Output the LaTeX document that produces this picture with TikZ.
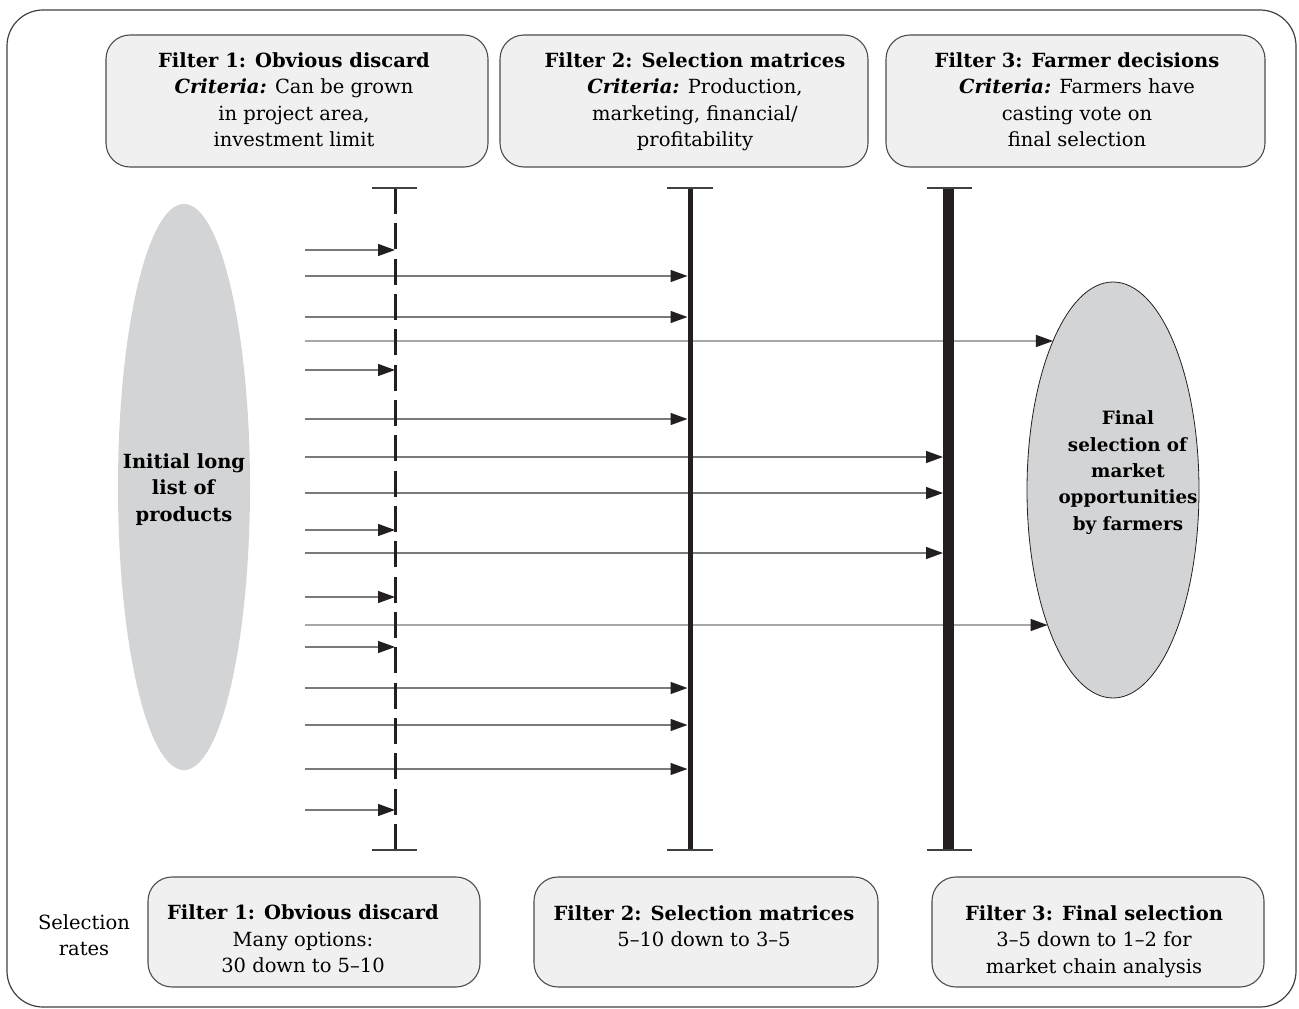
\documentclass[tikz,border=0pt]{standalone}
\usepackage{fontspec}
\setmainfont{DejaVu Serif}
\usetikzlibrary{arrows.meta,shapes.geometric,intersections}
\definecolor{boxfill}{HTML}{F0F0F0}
\definecolor{ellfill}{HTML}{D3D4D6}
\definecolor{ink}{HTML}{231F20}
\definecolor{arrgray}{HTML}{7A7A7A}
\begin{document}
\begin{tikzpicture}[x=1pt,y=-1pt,
  txt/.style={align=center, font=\fontsize{19.5}{26.5}\selectfont, inner sep=0pt},
  rbox/.style={draw=black!70, line width=1.1pt, fill=boxfill, rounded corners=24pt, inner sep=0pt},
  arr/.style={draw=arrgray, line width=1.4pt, -{Triangle[length=17pt,width=12pt,color=ink]}},
  tbar/.style={draw=black!75, line width=2pt},
]
\useasboundingbox (0,0) rectangle (1299,1009);
% outer frame
\draw[draw=black!75, line width=1.2pt, rounded corners=36pt] (7,10) rectangle (1296,1007);

% top boxes
\node[rbox, minimum width=382pt, minimum height=132pt] (t1) at (297,101) {};
\node[rbox, minimum width=368pt, minimum height=132pt] (t2) at (684,101) {};
\node[rbox, minimum width=379pt, minimum height=132pt] (t3) at (1075.5,101) {};
\node[txt] (t1t) at (294,99.5) {\textbf{Filter 1: Obvious discard}\\\textbf{\textit{Criteria:}} Can be grown\\in project area,\\investment limit};
\node[txt] (t2t) at (695,102) {\textbf{Filter 2: Selection matrices}\\\textbf{\textit{Criteria:}} Production,\\marketing, financial/\\profitability};
\node[txt] (t3t) at (1077,99.5) {\textbf{Filter 3: Farmer decisions}\\\textbf{\textit{Criteria:}} Farmers have\\casting vote on\\final selection};

% bottom boxes
\node[rbox, minimum width=332pt, minimum height=110pt] (b1) at (314,932) {};
\node[rbox, minimum width=344pt, minimum height=110pt] (b2) at (706,932) {};
\node[rbox, minimum width=332pt, minimum height=110pt] (b3) at (1098,932) {};
\node[txt] (b1t) at (303,939) {\textbf{Filter 1: Obvious discard}\\Many options:\\30 down to 5–10};
\node[txt] (b2t) at (704,926) {\textbf{Filter 2: Selection matrices}\\5–10 down to 3–5};
\node[txt] (b3t) at (1094,941.5) {\textbf{Filter 3: Final selection}\\3–5 down to 1–2 for\\market chain analysis};
\node[txt] (sr) at (84,935) {Selection\\rates};

% ellipses
\node[ellipse, fill=ellfill, minimum width=132pt, minimum height=566pt, inner sep=0pt] (init) at (184,487) {};
\node[txt] (initt) at (184,489.5) {\textbf{Initial long}\\\textbf{list of}\\\textbf{products}};
\node[ellipse, fill=ellfill, draw=ink, line width=0.8pt, minimum width=172pt, minimum height=416pt, inner sep=0pt, name path=finP] (fin) at (1113,490) {};
\node[txt, font=\fontsize{18.3}{26.3}\selectfont] (fint) at (1128,472.5) {\textbf{Final}\\\textbf{selection of}\\\textbf{market}\\\textbf{opportunities}\\\textbf{by farmers}};

% filter line positions
\coordinate (L1t) at (395,188);
\coordinate (L1b) at (395,850);
\coordinate (L2t) at (690,188);
\coordinate (L2b) at (690,850);
\coordinate (L3t) at (948.5,188);
\coordinate (L3b) at (948.5,850);
\coordinate (L2e) at (687.5,0);
\coordinate (L3e) at (943,0);

% arrow starts
\foreach \i/\yy in {1/250,2/276,3/317,4/341,5/370,6/419,7/457,8/493,9/530,10/553,11/597,12/625,13/647,14/688,15/725,16/769,17/810}
  \coordinate (s\i) at (305,\yy);

% arrows to filter 1
\foreach \i in {1,5,9,11,13,17}
  \draw[arr] (s\i) -- (s\i -| L1t);
% arrows to filter 2
\foreach \i in {2,3,6,14,15,16}
  \draw[arr] (s\i) -- (s\i -| L2e);
% arrows to filter 3
\foreach \i in {7,8,10}
  \draw[arr] (s\i) -- (s\i -| L3e);
% arrows to final selection
\path[name path=p4] (s4) -- +(900,0);
\path[name path=p12] (s12) -- +(900,0);
\path[name intersections={of=p4 and finP, sort by=p4, by={e4}}];
\path[name intersections={of=p12 and finP, sort by=p12, by={e12}}];
\draw[arr] (s4) -- (e4);
\draw[arr] (s12) -- (e12);

% filter lines
\draw[ink, line width=3pt, dash pattern=on 26pt off 9.33pt] (L1t) -- (L1b);
\draw[ink, line width=5pt] (L2t) -- (L2b);
\draw[ink, line width=11pt] (L3t) -- (L3b);
\draw[tbar] ([xshift=-23pt]L1t) -- ([xshift=22pt]L1t);
\draw[tbar] ([xshift=-23pt]L1b) -- ([xshift=22pt]L1b);
\draw[tbar] ([xshift=-23pt]L2t) -- ([xshift=23pt]L2t);
\draw[tbar] ([xshift=-23pt]L2b) -- ([xshift=23pt]L2b);
\draw[tbar] ([xshift=-22pt]L3t) -- ([xshift=23pt]L3t);
\draw[tbar] ([xshift=-22pt]L3b) -- ([xshift=23pt]L3b);
\end{tikzpicture}
\end{document}
